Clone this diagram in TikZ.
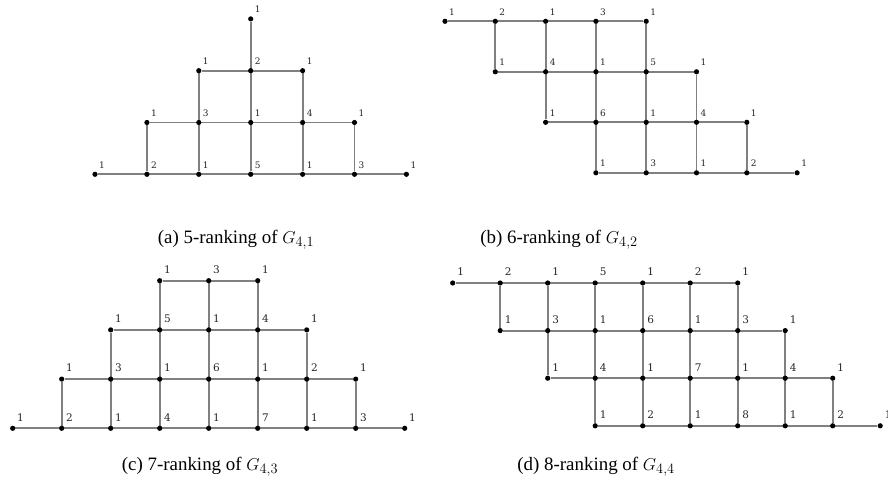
\documentclass[tikz,border=0pt]{standalone}
\usepackage[no-math]{fontspec}
\setmainfont{Liberation Serif}
\newfontfamily\rankfont{DejaVu Serif}
\usetikzlibrary{backgrounds}

\tikzset{
  edge/.style={draw=black!50, line width=1.8bp},
  dot/.style={circle, fill=black, inner sep=0pt, minimum size=5.2bp},
  rank/.style={font=\rankfont\fontsize{9}{10}\selectfont, text=black!85,
    inner sep=0pt, xshift=7bp, yshift=9.5bp},
  capt/.style={font=\fontsize{19}{22}\selectfont, inner sep=0pt},
}

\begin{document}
\begin{tikzpicture}[x=1bp, y=-1bp]
    \useasboundingbox (0,0) rectangle (888,487);

    % (a) G_{4,1}
    \begin{scope}[shift={(95,174.3)}, x=51.9bp, y=51.8bp]
        \foreach \c/\r/\k in {0/0/1, 1/0/2, 2/0/1, 3/0/5, 4/0/1, 5/0/3, 6/0/1,
                              1/1/1, 2/1/3, 3/1/1, 4/1/4, 5/1/1,
                              2/2/1, 3/2/2, 4/2/1,
                              3/3/1} {
            \node[dot] (a\c\r) at (\c,\r) {};
            \node[rank] (la\c\r) at (\c,\r) {\k};
        }
        \begin{scope}[on background layer]
            \draw[edge] (a00) -- (a60) (a11) -- (a51) (a22) -- (a42);
            \draw[edge] (a10) -- (a11) (a20) -- (a22) (a30) -- (a33)
                        (a40) -- (a42) (a50) -- (a51);
        \end{scope}
    \end{scope}
    \node[capt] (capa) at (236,240) {(a) 5-ranking of $G_{4,1}$};

    % (b) G_{4,2}
    \begin{scope}[shift={(445,21.3)}, x=50.3bp, y=-50.5bp]
        \foreach \c/\r/\k in {0/0/1, 1/0/2, 2/0/1, 3/0/3, 4/0/1,
                              1/1/1, 2/1/4, 3/1/1, 4/1/5, 5/1/1,
                              2/2/1, 3/2/6, 4/2/1, 5/2/4, 6/2/1,
                              3/3/1, 4/3/3, 5/3/1, 6/3/2, 7/3/1} {
            \node[dot] (b\c\r) at (\c,\r) {};
            \node[rank] (lb\c\r) at (\c,\r) {\k};
        }
        \begin{scope}[on background layer]
            \draw[edge] (b00) -- (b40) (b11) -- (b51) (b22) -- (b62) (b33) -- (b73);
            \draw[edge] (b10) -- (b11) (b20) -- (b22) (b30) -- (b33)
                        (b40) -- (b43) (b51) -- (b53) (b62) -- (b63);
        \end{scope}
    \end{scope}
    \node[capt] (capb) at (559,240) {(b) 6-ranking of $G_{4,2}$};

    % (c) G_{4,3}
    \begin{scope}[shift={(12.7,428.3)}, x=49bp, y=49.2bp,
                  rank/.append style={font=\rankfont\fontsize{10.5}{11}\selectfont,
                                      xshift=0.8bp, yshift=1.5bp}]
        \foreach \c/\r/\k in {0/0/1, 1/0/2, 2/0/1, 3/0/4, 4/0/1, 5/0/7, 6/0/1, 7/0/3, 8/0/1,
                              1/1/1, 2/1/3, 3/1/1, 4/1/6, 5/1/1, 6/1/2, 7/1/1,
                              2/2/1, 3/2/5, 4/2/1, 5/2/4, 6/2/1,
                              3/3/1, 4/3/3, 5/3/1} {
            \node[dot] (c\c\r) at (\c,\r) {};
            \node[rank] (lc\c\r) at (\c,\r) {\k};
        }
        \begin{scope}[on background layer]
            \draw[edge] (c00) -- (c80) (c11) -- (c71) (c22) -- (c62) (c33) -- (c53);
            \draw[edge] (c10) -- (c11) (c20) -- (c22) (c30) -- (c33) (c40) -- (c43)
                        (c50) -- (c53) (c60) -- (c62) (c70) -- (c71);
        \end{scope}
    \end{scope}
    \node[capt] (capc) at (200,467) {(c) 7-ranking of $G_{4,3}$};

    % (d) G_{4,4}
    \begin{scope}[shift={(452.7,283)}, x=47.5bp, y=-47.6bp,
                  rank/.append style={font=\rankfont\fontsize{10.5}{11}\selectfont,
                                      xshift=1bp, yshift=1.5bp}]
        \foreach \c/\r/\k in {0/0/1, 1/0/2, 2/0/1, 3/0/5, 4/0/1, 5/0/2, 6/0/1,
                              1/1/1, 2/1/3, 3/1/1, 4/1/6, 5/1/1, 6/1/3, 7/1/1,
                              2/2/1, 3/2/4, 4/2/1, 5/2/7, 6/2/1, 7/2/4, 8/2/1,
                              3/3/1, 4/3/2, 5/3/1, 6/3/8, 7/3/1, 8/3/2, 9/3/1} {
            \node[dot] (d\c\r) at (\c,\r) {};
            \node[rank] (ld\c\r) at (\c,\r) {\k};
        }
        \begin{scope}[on background layer]
            \draw[edge] (d00) -- (d60) (d11) -- (d71) (d22) -- (d82) (d33) -- (d93);
            \draw[edge] (d10) -- (d11) (d20) -- (d22) (d30) -- (d33) (d40) -- (d43)
                        (d50) -- (d53) (d60) -- (d63) (d71) -- (d73) (d82) -- (d83);
        \end{scope}
    \end{scope}
    \node[capt] (capd) at (596,467) {(d) 8-ranking of $G_{4,4}$};

\end{tikzpicture}
\end{document}
